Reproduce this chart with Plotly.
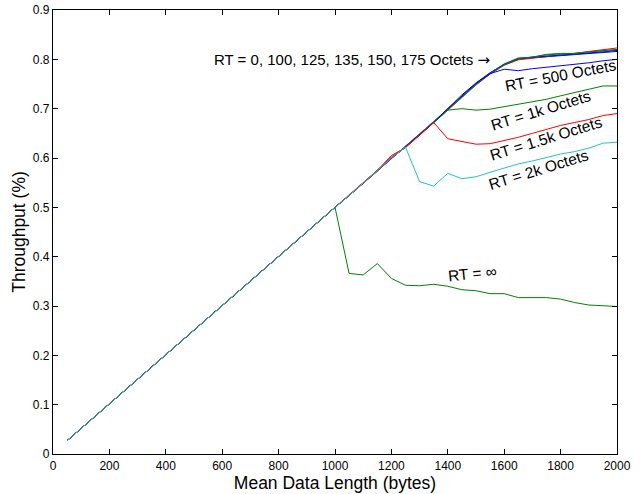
import plotly.graph_objects as go

# Mean data length (bytes)
lengths = [50, 100, 150, 200, 250, 300, 350, 400, 450, 500,
           550, 600, 650, 700, 750, 800, 850, 900, 950, 1000,
           1050, 1100, 1150, 1200, 1250, 1300, 1350, 1400, 1450, 1500,
           1550, 1600, 1650, 1700, 1750, 1800, 1850, 1900, 1950, 2000]

# Shared linear region (50 .. 1000 bytes)
ramp_low = [0.027, 0.052, 0.077, 0.102, 0.127, 0.151, 0.176, 0.201, 0.226, 0.251,
            0.276, 0.301, 0.326, 0.351, 0.376, 0.400, 0.425, 0.450, 0.475, 0.500]

# Throughput beyond 1000 bytes for each RT threshold
rt_0 = [0.524, 0.549, 0.573, 0.600, 0.623, 0.648, 0.673, 0.699, 0.725, 0.752,
        0.773, 0.790, 0.801, 0.803, 0.805, 0.807, 0.810, 0.812, 0.814, 0.816]
rt_100 = [0.524, 0.549, 0.574, 0.601, 0.622, 0.647, 0.672, 0.698, 0.722, 0.749,
          0.771, 0.789, 0.800, 0.804, 0.810, 0.812, 0.812, 0.814, 0.818, 0.819]
rt_125 = [0.525, 0.550, 0.575, 0.605, 0.621, 0.646, 0.671, 0.697, 0.721, 0.748,
          0.770, 0.788, 0.799, 0.802, 0.806, 0.809, 0.812, 0.816, 0.820, 0.823]
rt_135 = [0.524, 0.549, 0.573, 0.599, 0.624, 0.648, 0.674, 0.700, 0.723, 0.750,
          0.772, 0.791, 0.803, 0.804, 0.807, 0.810, 0.811, 0.814, 0.817, 0.820]
rt_150 = [0.524, 0.549, 0.573, 0.600, 0.622, 0.647, 0.672, 0.700, 0.726, 0.751,
          0.772, 0.790, 0.802, 0.804, 0.806, 0.808, 0.811, 0.813, 0.815, 0.818]
rt_175 = [0.524, 0.549, 0.573, 0.600, 0.622, 0.647, 0.672, 0.698, 0.723, 0.749,
          0.771, 0.789, 0.801, 0.805, 0.809, 0.811, 0.812, 0.815, 0.818, 0.820]
rt_500 = [0.524, 0.549, 0.573, 0.600, 0.623, 0.648, 0.673, 0.700, 0.728, 0.752,
          0.771, 0.780, 0.777, 0.781, 0.784, 0.786, 0.789, 0.793, 0.797, 0.800]
rt_1k = [0.524, 0.549, 0.573, 0.600, 0.622, 0.647, 0.672, 0.697, 0.700, 0.697,
         0.699, 0.704, 0.708, 0.713, 0.719, 0.726, 0.733, 0.740, 0.746, 0.746]
rt_1500 = [0.524, 0.549, 0.573, 0.602, 0.622, 0.647, 0.672, 0.639, 0.634, 0.628,
           0.629, 0.635, 0.642, 0.650, 0.658, 0.666, 0.672, 0.678, 0.686, 0.690]
rt_2k = [0.524, 0.549, 0.573, 0.600, 0.622, 0.552, 0.543, 0.569, 0.558, 0.562,
         0.571, 0.580, 0.588, 0.594, 0.601, 0.608, 0.613, 0.620, 0.630, 0.632]
rt_inf = [0.366, 0.363, 0.386, 0.356, 0.342, 0.341, 0.344, 0.340, 0.333, 0.331,
          0.325, 0.325, 0.317, 0.317, 0.317, 0.314, 0.307, 0.302, 0.300, 0.299]

x_ticks = [0, 200, 400, 600, 800, 1000, 1200, 1400, 1600, 1800, 2000]
y_ticks = [0, 0.1, 0.2, 0.3, 0.4, 0.5, 0.6, 0.7, 0.8, 0.9]

BLUE = "#0000ff"
GREEN = "#008000"
RED = "#ff0000"
CYAN = "#1fc4c4"

series = [
    ("RT = ∞", rt_inf, GREEN),
    ("RT = 0", rt_0, BLUE),
    ("RT = 100", rt_100, GREEN),
    ("RT = 125", rt_125, RED),
    ("RT = 135", rt_135, CYAN),
    ("RT = 150", rt_150, BLUE),
    ("RT = 175", rt_175, GREEN),
    ("RT = 500", rt_500, BLUE),
    ("RT = 1k", rt_1k, GREEN),
    ("RT = 1.5k", rt_1500, RED),
    ("RT = 2k", rt_2k, CYAN),
]

fig = go.Figure()
for name, tail, color in series:
    fig.add_trace(go.Scatter(
        x=lengths, y=ramp_low + tail, mode="lines", name=name,
        line=dict(color=color, width=1), showlegend=False,
    ))

FONT = "Liberation Sans, Arial, Helvetica, sans-serif"
ARROW = "<span style='font-family:DejaVu Sans'>→</span>"

labels = [
    (1555, 0.799, "RT = 0, 100, 125, 135, 150, 175 Octets " + ARROW, 0, "right", 15),
    (1798, 0.768, "RT = 500 Octets", -11, "center", 15.5),
    (1727, 0.697, "RT = 1k Octets", -17, "center", 15.5),
    (1748, 0.639, "RT = 1.5k Octets", -17, "center", 15.5),
    (1723, 0.576, "RT = 2k Octets", -17, "center", 15.5),
    (1487, 0.365, "RT = ∞", -6, "center", 15.5),
]
for x, y, text, ang, anchor, size in labels:
    fig.add_annotation(x=x, y=y, text=text, showarrow=False, textangle=ang,
                       xanchor=anchor, yanchor="middle",
                       font=dict(family=FONT, size=size, color="black"))

axis_common = dict(
    showgrid=False, zeroline=False, showline=True, linecolor="black",
    linewidth=1.3, mirror="ticks", ticks="inside", ticklen=5,
    tickcolor="black", tickfont=dict(family=FONT, size=12, color="black"),
    automargin=False,
)

fig.update_layout(
    width=640, height=494,
    margin=dict(l=53, r=23, t=10, b=40),
    paper_bgcolor="white", plot_bgcolor="white",
    xaxis=dict(range=[0, 2000], tickvals=x_ticks,
               title=dict(text="Mean Data Length (bytes)", standoff=3,
                          font=dict(family=FONT, size=17.5, color="black")),
               **axis_common),
    yaxis=dict(range=[0, 0.9], tickvals=y_ticks,
               ticktext=["0", "0.1", "0.2", "0.3", "0.4", "0.5", "0.6", "0.7", "0.8", "0.9"],
               title=dict(text="Throughput (%)", standoff=2,
                          font=dict(family=FONT, size=17.5, color="black")),
               **axis_common),
)

fig.write_html("out.html")
